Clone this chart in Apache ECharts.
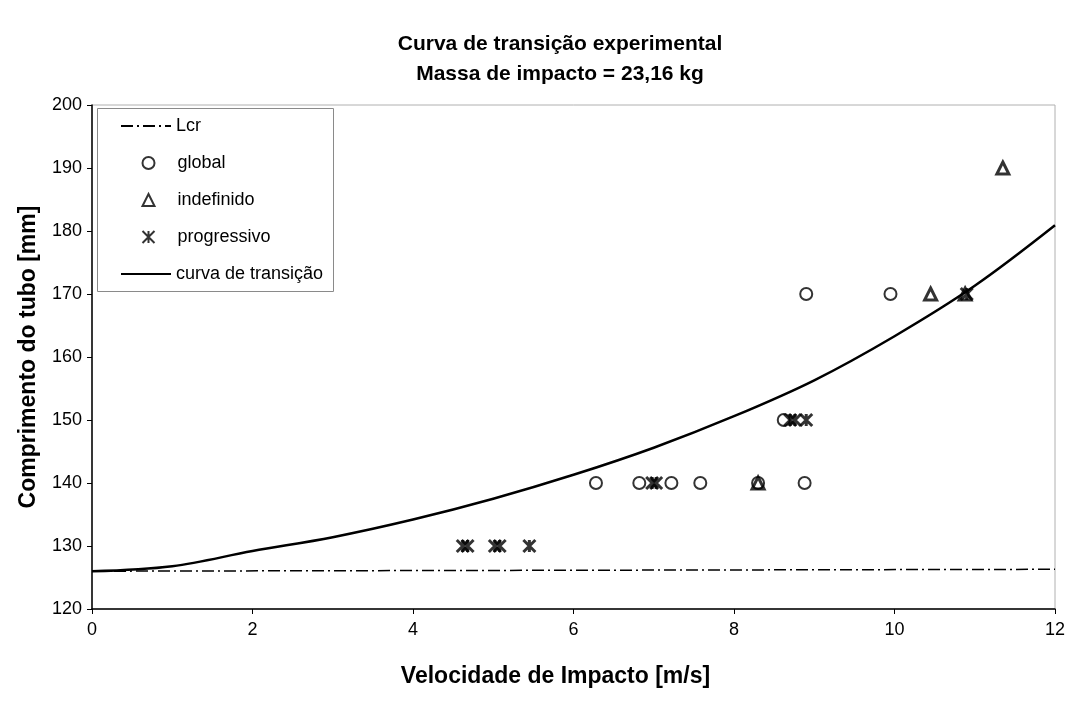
<!DOCTYPE html>
<html>
<head>
<meta charset="utf-8">
<script src="https://cdn.jsdelivr.net/npm/echarts@6/dist/echarts.min.js"></script>
<style>
  html, body { margin: 0; padding: 0; background: #fff; }
  #chart { width: 1069px; height: 715px; }
</style>
</head>
<body>
<div id="chart"></div>
<script>
// Tick labels
const xTicks = [0, 2, 4, 6, 8, 10, 12];
const yTicks = [120, 130, 140, 150, 160, 170, 180, 190, 200];

// Critical length line (Lcr)
const lcrV = [0, 12];
const lcrL = [126.0, 126.3];

// Transition curve, velocity [m/s] vs tube length [mm]
const curveV = [0, 1, 2, 3, 4, 5, 6, 7, 8, 9, 10, 11, 12];
const curveL = [126.0, 126.8, 129.2, 131.4, 134.2, 137.5, 141.3, 145.6, 150.6, 156.3, 163.3, 171.3, 180.9];

// Test results by collapse mode
const globalV = [6.28, 6.82, 7.22, 7.58, 8.30, 8.88, 8.62, 8.90, 9.95];
const globalL = [140, 140, 140, 140, 140, 140, 150, 170, 170];

const indefV = [8.30, 10.45, 10.88, 11.35];
const indefL = [140, 170, 170, 190];

const progV = [4.62, 4.68, 5.02, 5.08, 5.45, 6.98, 7.03, 8.70, 8.76, 8.90, 10.90];
const progL = [130, 130, 130, 130, 130, 140, 140, 150, 150, 150, 170];

const zip = (a, b) => a.map((v, i) => [v, b[i]]);

// asterisk marker: X plus vertical bar
const starPath = 'path://M0,0L10,10M10,0L0,10M5,0L5,10';

const FONT = '"Liberation Sans", Arial, sans-serif';
const hiddenDot = { opacity: 0, color: 'rgba(0,0,0,0)', borderWidth: 0 };
const legendText = { fontFamily: FONT, fontSize: 18, color: '#000' };

// legend frame position
const LEG_X = 97, LEG_Y = 108, LEG_W = 236, LEG_H = 183;
const ROW = 37;

const chart = echarts.init(document.getElementById('chart'), null, { renderer: 'canvas' });

chart.setOption({
  backgroundColor: '#ffffff',
  animation: false,
  title: {
    text: 'Curva de transição experimental\nMassa de impacto = 23,16 kg',
    left: 555,
    top: 24,
    textAlign: 'center',
    textStyle: {
      fontFamily: FONT,
      fontSize: 21,
      fontWeight: 'bold',
      color: '#000',
      lineHeight: 30
    }
  },
  grid: {
    left: 92,
    right: 14,
    top: 105,
    bottom: 106,
    show: true,
    borderColor: '#b0b0b0',
    borderWidth: 1,
    backgroundColor: 'transparent'
  },
  graphic: [{
    type: 'rect',
    left: LEG_X,
    top: LEG_Y,
    z: 9,
    shape: { width: LEG_W, height: LEG_H },
    style: { fill: '#fff', stroke: '#8a8a8a', lineWidth: 1 }
  }],
  legend: [
    {
      orient: 'vertical',
      left: LEG_X + 23,
      top: LEG_Y + 9,
      padding: 0,
      itemWidth: 50,
      itemHeight: 12,
      z: 10,
      textStyle: legendText,
      data: [{ name: 'Lcr', itemStyle: hiddenDot }]
    },
    {
      orient: 'vertical',
      left: LEG_X + 43,
      top: LEG_Y + 9 + ROW,
      padding: 0,
      itemWidth: 12,
      itemHeight: 12,
      itemGap: 19,
      z: 10,
      textStyle: Object.assign({ padding: [0, 0, 0, 18] }, legendText),
      data: ['global', 'indefinido', 'progressivo']
    },
    {
      orient: 'vertical',
      left: LEG_X + 23,
      top: LEG_Y + 9 + ROW * 4,
      padding: 0,
      itemWidth: 50,
      itemHeight: 12,
      z: 10,
      textStyle: legendText,
      data: [{ name: 'curva de transição', itemStyle: hiddenDot }]
    }
  ],
  xAxis: {
    type: 'value',
    min: 0,
    max: 12,
    interval: 2,
    name: 'Velocidade de Impacto [m/s]',
    nameLocation: 'middle',
    nameGap: 56,
    nameTextStyle: { fontFamily: FONT, fontSize: 23, fontWeight: 'bold', color: '#000', padding: [0, 36, 0, 0] },
    axisLine: { show: true, lineStyle: { color: '#000', width: 1.5 } },
    axisTick: { show: true, inside: false, length: 5, lineStyle: { color: '#000' } },
    axisLabel: {
      fontFamily: FONT, fontSize: 18, color: '#000', margin: 12,
      formatter: v => (xTicks.includes(v) ? String(v) : '')
    },
    splitLine: { show: false }
  },
  yAxis: {
    type: 'value',
    min: 120,
    max: 200,
    interval: 10,
    name: 'Comprimento do tubo [mm]',
    nameLocation: 'middle',
    nameGap: 52,
    nameRotate: 90,
    nameTextStyle: { fontFamily: FONT, fontSize: 23, fontWeight: 'bold', color: '#000' },
    axisLine: { show: true, lineStyle: { color: '#000', width: 1.5 } },
    axisTick: { show: true, inside: false, length: 5, lineStyle: { color: '#000' } },
    axisLabel: {
      fontFamily: FONT, fontSize: 18, color: '#000', margin: 10,
      formatter: v => (yTicks.includes(v) ? String(v) : '')
    },
    splitLine: { show: false }
  },
  series: [
    {
      name: 'Lcr',
      type: 'line',
      data: zip(lcrV, lcrL),
      symbol: 'none',
      lineStyle: { color: '#000', width: 1.5, type: [12, 4, 2, 4] },
      itemStyle: { color: '#000' },
      z: 2
    },
    {
      name: 'global',
      type: 'scatter',
      data: zip(globalV, globalL),
      symbol: 'circle',
      symbolSize: 12,
      itemStyle: { color: '#fff', borderColor: '#000', borderWidth: 2 },
      z: 3
    },
    {
      name: 'indefinido',
      type: 'scatter',
      data: zip(indefV, indefL),
      symbol: 'triangle',
      symbolSize: 12,
      itemStyle: { color: 'rgba(255,255,255,0)', borderColor: '#000', borderWidth: 3 },
      z: 4
    },
    {
      name: 'progressivo',
      type: 'scatter',
      data: zip(progV, progL),
      symbol: starPath,
      symbolSize: 12,
      itemStyle: { color: 'none', borderColor: '#000', borderWidth: 3 },
      z: 5
    },
    {
      name: 'curva de transição',
      type: 'line',
      data: zip(curveV, curveL),
      symbol: 'none',
      smooth: 0.35,
      lineStyle: { color: '#000', width: 2.5 },
      itemStyle: { color: '#000' },
      z: 6
    }
  ]
});
</script>
</body>
</html>
